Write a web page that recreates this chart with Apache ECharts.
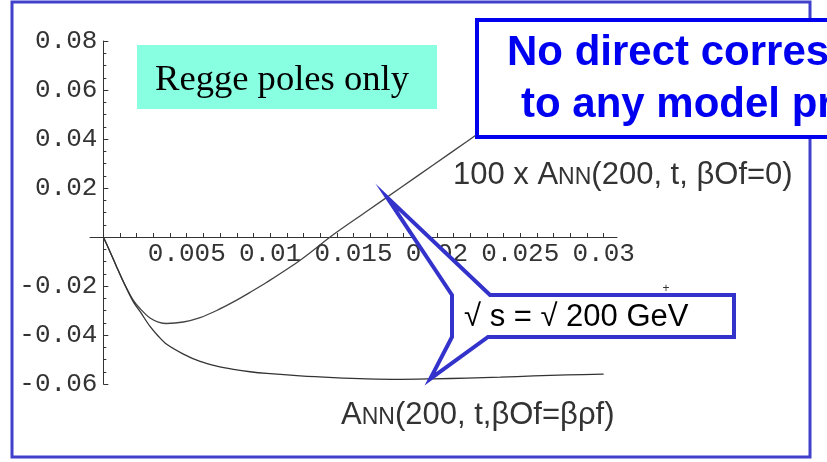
<!DOCTYPE html>
<html>
<head>
<meta charset="utf-8">
<script src="https://cdn.jsdelivr.net/npm/echarts@6/dist/echarts.min.js"></script>
<style>
  html, body { margin: 0; padding: 0; background: #fff; }
  #chart { width: 827px; height: 462px; }
</style>
</head>
<body>
<div id="chart"></div>
<script>
// -t values (GeV^2) at which the two asymmetries are sampled
const tValues = [0, 0.0004, 0.0008, 0.0012, 0.0018, 0.0022, 0.0028, 0.0033, 0.0038, 0.0048,
  0.0058, 0.0068, 0.0078, 0.0088, 0.0098, 0.0118, 0.0138, 0.0158, 0.0178, 0.0198,
  0.0218, 0.0238, 0.0258, 0.0278, 0.0300];

// 100 x A_NN(200, t, betaOf = 0)
const annOdderonOff = [0, -0.0060, -0.0122, -0.0182, -0.0259, -0.0292, -0.0331, -0.0347, -0.0353, -0.0347,
  -0.0329, -0.0300, -0.0265, -0.0226, -0.0185, -0.0095, 0.0010, 0.0105, 0.0200, 0.0295,
  0.0390, 0.0486, 0.0582, 0.0678, 0.0784];

// A_NN(200, t, betaOf = beta_rho_f)
const annOdderonRho = [0, -0.0060, -0.0122, -0.0183, -0.0265, -0.0304, -0.0365, -0.0405, -0.0438, -0.0478,
  -0.0508, -0.0527, -0.0540, -0.0550, -0.0557, -0.0567, -0.0574, -0.0579, -0.0581, -0.0579,
  -0.0576, -0.0572, -0.0567, -0.0563, -0.0560];

// axis ticks
const xLabelTicks = [0.005, 0.01, 0.015, 0.02, 0.025, 0.03];
const xMinorTicks = [];
for (let i = 1; i <= 30; i++) xMinorTicks.push(i / 1000);
const yTicks = [-0.06, -0.04, -0.02, 0, 0.02, 0.04, 0.06, 0.08];

// points on the curves that the energy callout points at
const calloutTipUpper = [0.0170, 0.0163];
const calloutTipLower = [0.0196, -0.0579];

const chart = echarts.init(document.getElementById('chart'), null, { renderer: 'canvas' });

const monoFont = '"Liberation Mono", "DejaVu Sans Mono", monospace';
const sansFont = '"Liberation Sans", Arial, sans-serif';
const axisColor = '#333';
const gridBox = { left: 90, right: 210, top: 41, bottom: 78 };

function pairs(ts, vs) { return ts.map((t, i) => [t, vs[i]]); }

chart.setOption({
  animation: false,
  backgroundColor: '#fff',
  grid: Object.assign({ containLabel: false, outerBoundsMode: 'none' }, gridBox),
  xAxis: {
    type: 'value',
    min: -0.0008,
    max: 0.0308,
    splitLine: { show: false },
    axisLine: { onZero: false, lineStyle: { color: axisColor, width: 1 } },
    axisTick: { inside: true, length: 4, customValues: xMinorTicks, lineStyle: { color: axisColor } },
    axisLabel: {
      customValues: xLabelTicks,
      margin: 4,
      fontFamily: monoFont, fontSize: 26, color: axisColor,
      formatter: v => String(parseFloat(v.toFixed(3)))
    }
  },
  yAxis: {
    type: 'value',
    min: yTicks[0],
    max: yTicks[yTicks.length - 1],
    interval: 0.02,
    splitLine: { show: false },
    axisLine: { onZero: false, lineStyle: { color: axisColor, width: 1 } },
    axisTick: { inside: true, length: 5, lineStyle: { color: axisColor } },
    minorTick: { show: true, splitNumber: 4, length: 3, lineStyle: { color: axisColor } },
    axisLabel: {
      margin: 6,
      showMinLabel: true, showMaxLabel: true,
      fontFamily: monoFont, fontSize: 26, color: axisColor,
      formatter: v => (Math.abs(v) < 1e-9 ? '' : v.toFixed(2))
    }
  },
  series: [
    {
      name: '100 x ANN(200, t, βOf=0)',
      type: 'line',
      data: pairs(tValues, annOdderonOff),
      showSymbol: false,
      smooth: 0.3,
      lineStyle: { color: '#444', width: 1.3 },
      z: 3
    },
    {
      name: 'ANN(200, t,βOf=βρf)',
      type: 'line',
      data: pairs(tValues, annOdderonRho),
      showSymbol: false,
      smooth: 0.3,
      lineStyle: { color: '#333', width: 1.3 },
      z: 3
    }
  ]
});

// move both axes so they cross at the origin, labels included
const origin = chart.convertToPixel({ gridIndex: 0 }, [0, 0]);
const chartH = chart.getHeight();
chart.setOption({
  xAxis: { offset: -((chartH - gridBox.bottom) - origin[1]) },
  yAxis: { offset: -(origin[0] - gridBox.left) }
});

const tipU = chart.convertToPixel({ gridIndex: 0 }, calloutTipUpper);
const tipL = chart.convertToPixel({ gridIndex: 0 }, calloutTipLower);

const curveLabelRich = {
  sc: { fontSize: 23, fontFamily: sansFont, color: '#333', verticalAlign: 'bottom', padding: [0, 0, 1, 0] }
};

chart.setOption({
  graphic: [
    // slide frame
    {
      type: 'rect', z: 90,
      shape: { x: 12, y: 2, width: 798, height: 455 },
      style: { fill: null, stroke: '#4040cc', lineWidth: 3 }
    },
    // "Regge poles only" tag
    {
      type: 'rect', z: 95,
      shape: { x: 137, y: 45, width: 300, height: 64 },
      style: { fill: '#88ffe0' }
    },
    {
      type: 'text', z: 96,
      style: {
        x: 155, y: 80, text: 'Regge poles only',
        font: '36.6px "Liberation Serif", "Times New Roman", serif',
        fill: '#000', verticalAlign: 'middle'
      }
    },
    // comment box in the upper right
    {
      type: 'rect', z: 100,
      shape: { x: 477, y: 20, width: 420, height: 117 },
      style: { fill: '#fff', stroke: '#0000ee', lineWidth: 4 }
    },
    {
      type: 'text', z: 101,
      style: {
        x: 507, y: 53.5, text: 'No direct correspondence',
        font: 'bold 42px ' + sansFont, fill: '#0000f0', verticalAlign: 'middle'
      }
    },
    {
      type: 'text', z: 101,
      style: {
        x: 521, y: 105.5, text: 'to any model prediction',
        font: 'bold 42px ' + sansFont, fill: '#0000f0', verticalAlign: 'middle'
      }
    },
    // curve labels
    {
      type: 'text', z: 96,
      style: {
        x: 453, y: 175, text: '100 x A{sc|NN}(200, t, βOf=0)',
        font: '31px ' + sansFont, fill: '#333', verticalAlign: 'middle',
        rich: curveLabelRich
      }
    },
    {
      type: 'text', z: 96,
      style: {
        x: 341, y: 415, text: 'A{sc|NN}(200, t,βOf=βρf)',
        font: '31px ' + sansFont, fill: '#333', verticalAlign: 'middle',
        rich: curveLabelRich
      }
    },
    // energy callout pointing at both curves
    {
      type: 'polygon', z: 110,
      shape: {
        points: [
          [452, 295], tipU, [490, 295], [734, 295], [734, 337],
          [488, 337], tipL, [452, 337]
        ]
      },
      style: { fill: '#fff', stroke: '#3333cc', lineWidth: 4, lineJoin: 'miter' }
    },
    {
      type: 'text', z: 111,
      style: {
        x: 464, y: 317.5, text: '√ s = √ 200 GeV',
        font: '31px ' + sansFont, fill: '#000', verticalAlign: 'middle'
      }
    },
    {
      type: 'text', z: 96,
      style: {
        x: 666, y: 289, text: '+',
        font: '12px ' + sansFont, fill: '#333', align: 'center', verticalAlign: 'middle'
      }
    }
  ]
});
</script>
</body>
</html>
